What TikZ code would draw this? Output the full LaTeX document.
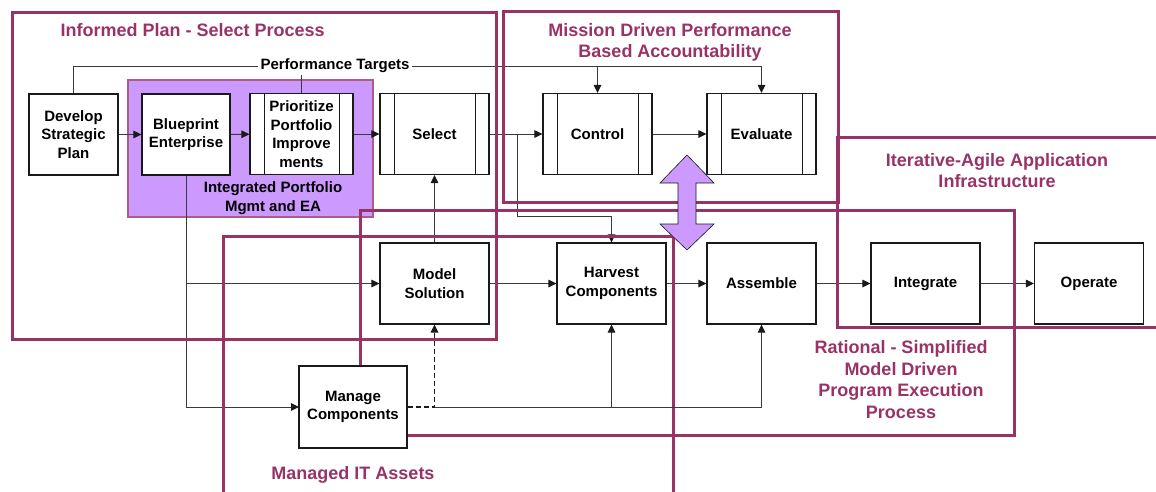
\documentclass[tikz,border=0pt]{standalone}
\usepackage{fontspec}
\setmainfont{Liberation Sans}
\usetikzlibrary{arrows.meta,calc,positioning}
\definecolor{frame}{HTML}{993366}
\definecolor{lilac}{HTML}{CC99FF}
\definecolor{ink}{HTML}{1A1A1A}
\definecolor{wire}{HTML}{3A3A3A}

\begin{document}
\begin{tikzpicture}[x=1pt,y=-1pt,>={Triangle[length=8pt,width=7.5pt,color=ink]},
  box/.style={draw=ink,line width=1.1pt,fill=white,minimum width=109pt,minimum height=81pt,inner sep=0pt,align=center,font=\fontsize{15}{18.5}\selectfont\bfseries},
  procbox/.style={box,path picture={\draw[ink,line width=1pt] ([xshift=14pt]path picture bounding box.north west) -- ([xshift=14pt]path picture bounding box.south west) ([xshift=-14pt]path picture bounding box.north east) -- ([xshift=-14pt]path picture bounding box.south east);}},
  conn/.style={draw=wire,line width=1pt},
  zone/.style={draw=frame,line width=3pt},
  zonetitle/.style={text=frame,align=center,font=\fontsize{18}{21.5}\selectfont\bfseries}]
\useasboundingbox (0,0) rectangle (1156,491);
% portfolio group
\node[draw=frame!80,line width=1.2pt,fill=lilac,minimum width=245pt,minimum height=137pt,inner sep=0pt] (ipm) at (250.5,148.5) {};
\node[font=\fontsize{15}{19}\selectfont\bfseries,align=center] (ipmlbl) at (273,198) {Integrated Portfolio\\Mgmt and EA};
% boxes
\node[box,minimum width=89pt] (dev) at (73.5,134.5) {Develop\\Strategic\\Plan};
\node[box,minimum width=88pt] (blue) at (186,134.5) {Blueprint\\Enterprise};
\node[procbox,minimum width=103pt] (prio) at (301.5,134) {Prioritize\\Portfolio\\Improve\\ments};
\node[procbox] (sel) at (434.5,134) {Select};
\node[procbox] (ctrl) at (597.5,134) {Control};
\node[procbox] (eval) at (761.5,134) {Evaluate};
\node[box] (mod) at (434.5,283.5) {Model\\Solution};
\node[box] (harv) at (611.5,283.5) {Harvest\\Components};
\node[box] (asm) at (761.5,283.5) {Assemble};
\node[box] (integ) at (925.5,283.5) {Integrate};
\node[box] (oper) at (1089,283.5) {Operate};
\node[font=\fontsize{15}{18.5}\selectfont\bfseries,inner sep=2pt] (perf) at (335,66) {Performance Targets};
% connectors
\draw[conn] (dev.north) |- (perf.west);
\draw[conn,->] (perf.east) -| (eval.north);
\draw[conn,->] (perf.east -| ctrl.north) -- (ctrl.north);
\draw[conn] (prio.north) -- (prio.north |- perf.south);
\draw[conn,->] (dev) -- (blue);
\draw[conn,->] (blue) -- (prio);
\draw[conn,->] (prio) -- (sel);
\draw[conn,->] (sel) -- (ctrl);
\draw[conn,->] (ctrl) -- (eval);
\coordinate (tap) at (517,134);
\coordinate (bend) at (517,216);
\draw[conn,->] (tap) -- (bend) -| (harv.north);
\draw[conn,->] (mod.north) -- (sel.south);
\coordinate (mngin) at (299,407);
\draw[conn,->] (blue.south) |- (mngin);
\draw[conn,->] (blue.south |- mod.west) -- (mod.west);
\draw[conn,->] (mod) -- (harv);
\draw[conn,->] (harv) -- (asm);
\draw[conn,->] (asm) -- (integ);
\draw[conn,->] (integ) -- (oper);
% zones
\draw[zone] (12,12) rectangle (496,339);
\draw[zone] (503,11) rectangle (838,202);
\draw[zone] (1160,137) -- (837,137) -- (837,327) -- (1160,327);
\draw[zone] (360,210) rectangle (1014,435);
\draw[zone] (223,500) -- (223,236) -- (673,236) -- (673,500);
\node[zonetitle,anchor=west] (tplan) at (57,30) {Informed Plan - Select Process};
\node[zonetitle] (tmission) at (670,42.5) {Mission Driven Performance\\Based Accountability};
\node[zonetitle] (titer) at (997,170.5) {Iterative-Agile Application\\Infrastructure};
\node[zonetitle] (trational) at (901,379.5) {Rational - Simplified\\Model Driven\\Program Execution\\Process};
\node[zonetitle] (tassets) at (353,475) {Managed IT Assets};
% asset store
\node[box,minimum width=108pt,minimum height=82pt] (mng) at (353,407) {Manage\\Components};
\draw[ink,line width=1.1pt,dash pattern=on 5pt off 3pt,->] (mng.east) -| (mod.south);
\draw[conn,->] (mng.east -| mod.south) -| (asm.south);
\draw[conn,->] (mng.east -| harv.south) -- (harv.south);
% feedback arrow
\draw[ink,line width=0.6pt,fill=lilac] (687,155) -- (714,183) -- (696,183) -- (696,224) -- (714,224) -- (687,250) -- (660,224) -- (678,224) -- (678,183) -- (660,183) -- cycle;
\end{tikzpicture}
\end{document}
